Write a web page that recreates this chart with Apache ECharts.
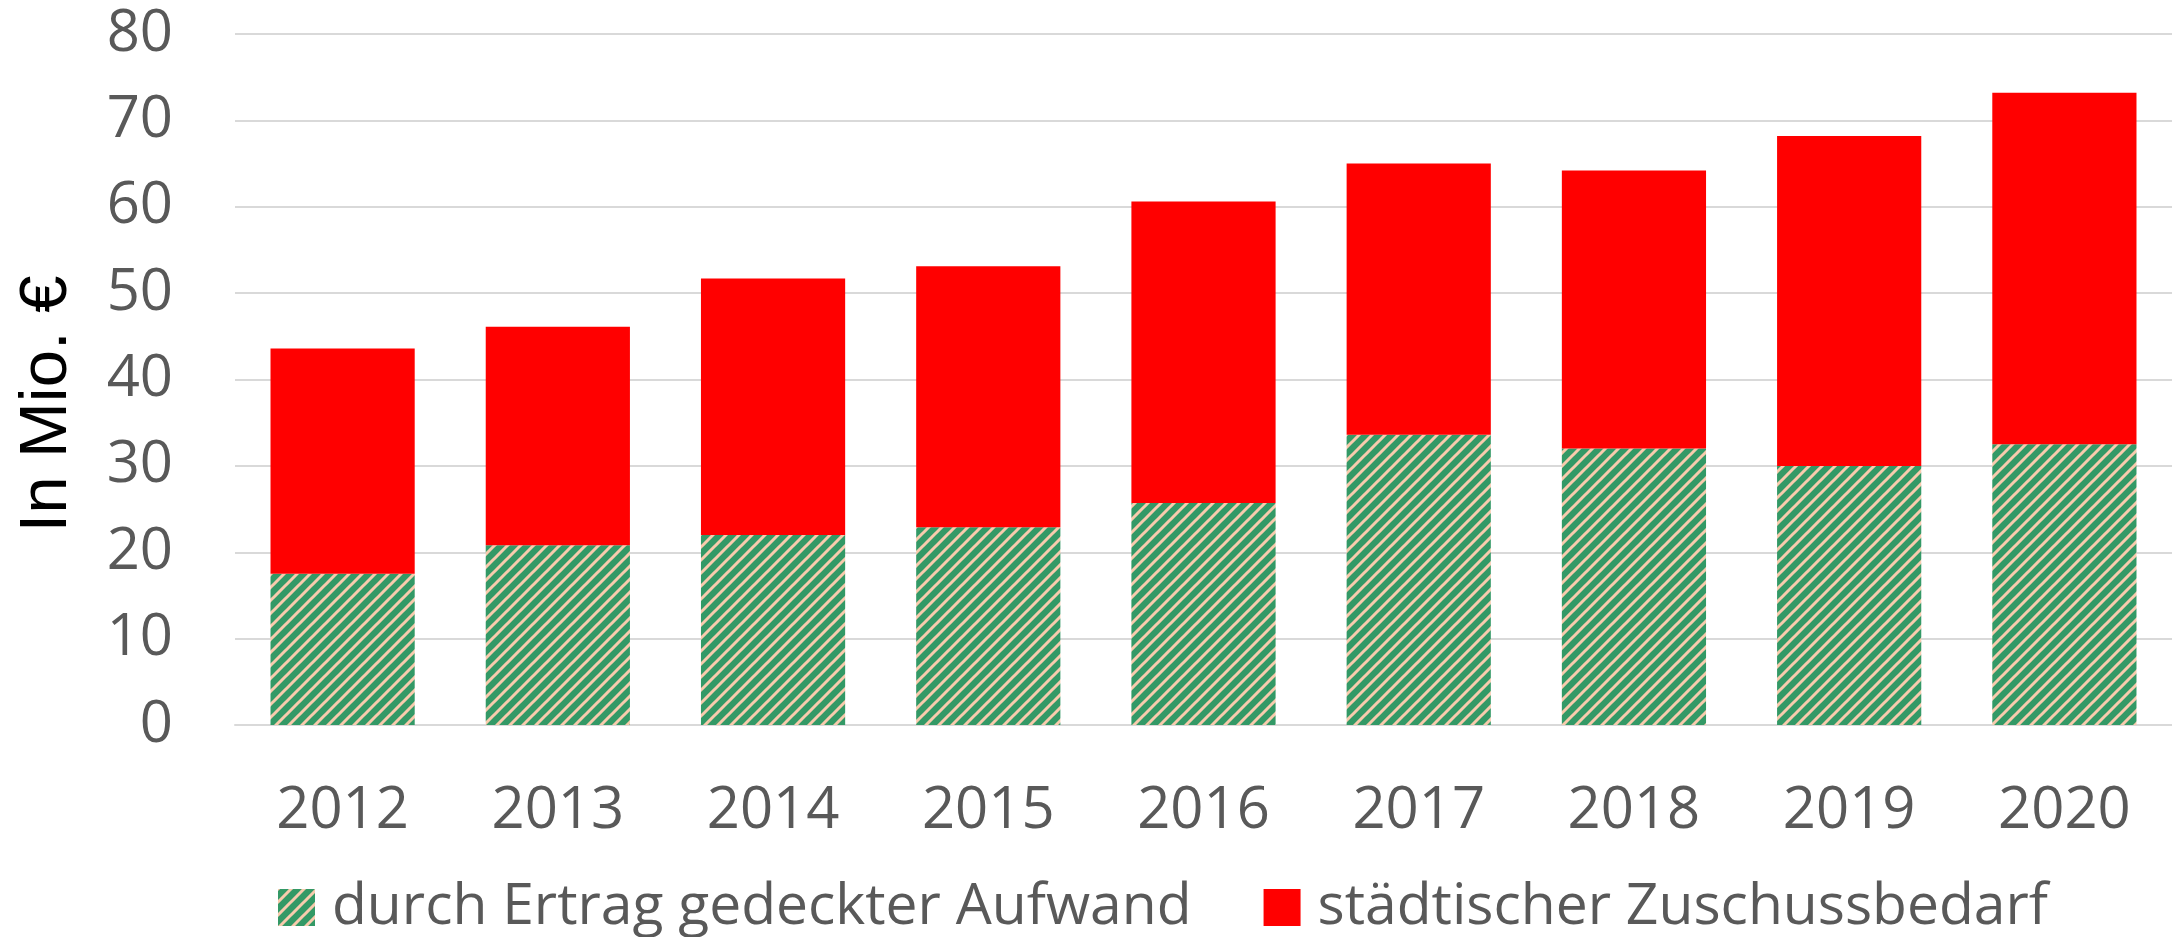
<!DOCTYPE html>
<html>
<head>
<meta charset="utf-8">
<script src="https://cdn.jsdelivr.net/npm/echarts@6/dist/echarts.min.js"></script>
<style>
  html, body { margin: 0; padding: 0; background: #fff; }
  #chart { width: 2172px; height: 937px; }
</style>
</head>
<body>
<div id="chart"></div>
<script>
// Daten
const years = ['2012', '2013', '2014', '2015', '2016', '2017', '2018', '2019', '2020']
const gedeckt = [17.5, 20.8, 22.0, 22.9, 25.7, 33.6, 32.0, 30.0, 32.5]
const zuschuss = [26.1, 25.3, 29.7, 30.2, 34.9, 31.4, 32.2, 38.2, 40.7]
const seriesNames = ['durch Ertrag gedeckter Aufwand', 'städtischer Zuschussbedarf']
const yTicks = [0, 10, 20, 30, 40, 50, 60, 70, 80]

// Schraffur (grün / pfirsich, diagonal)
function makeHatch() {
  const t = 13
  const c = document.createElement('canvas')
  c.width = t
  c.height = t
  const ctx = c.getContext('2d')
  ctx.fillStyle = '#339966'
  ctx.fillRect(0, 0, t, t)
  ctx.strokeStyle = '#F8CBAD'
  ctx.lineWidth = 3
  ctx.beginPath()
  ctx.moveTo(-2, t + 2); ctx.lineTo(t + 2, -2)
  ctx.moveTo(-2, 2); ctx.lineTo(2, -2)
  ctx.moveTo(t - 2, t + 2); ctx.lineTo(t + 2, t - 2)
  ctx.stroke()
  return c
}

const chart = echarts.init(document.getElementById('chart'))
const font = '"Open Sans", sans-serif'

const option = {
  animation: false,
  grid: { left: 235, right: 0, top: 34, bottom: 212 },
  legend: {
    top: 874,
    left: 273,
    itemWidth: 37,
    itemHeight: 37,
    itemGap: 72,
    icon: 'rect',
    textStyle: { fontFamily: font, fontSize: 57, color: '#595959', padding: [0, 0, 0, 12] },
    data: seriesNames
  },
  xAxis: {
    type: 'category',
    data: years,
    axisTick: { show: false },
    axisLine: { lineStyle: { color: '#d9d9d9', width: 2 } },
    axisLabel: { margin: 57, fontFamily: font, fontSize: 58, color: '#595959' }
  },
  yAxis: {
    type: 'value',
    min: yTicks[0],
    max: yTicks[yTicks.length - 1],
    interval: yTicks[1] - yTicks[0],
    axisLine: { show: false },
    axisTick: { show: false },
    splitLine: { lineStyle: { color: '#d9d9d9', width: 2 } },
    axisLabel: { margin: 62, fontFamily: font, fontSize: 58, color: '#595959' }
  },
  graphic: [{
    type: 'text',
    x: 48,
    y: 404,
    rotation: Math.PI / 2,
    style: {
      text: 'In Mio. €',
      fontFamily: '"Liberation Sans", Arial, sans-serif',
      fontSize: 67,
      fill: '#000',
      align: 'center',
      verticalAlign: 'middle'
    }
  }],
  series: [
    {
      name: seriesNames[0],
      type: 'bar',
      stack: 'total',
      barCategoryGap: '33%',
      itemStyle: { color: { image: makeHatch(), repeat: 'repeat' } },
      data: gedeckt
    },
    {
      name: seriesNames[1],
      type: 'bar',
      stack: 'total',
      barCategoryGap: '33%',
      itemStyle: { color: '#FF0000' },
      data: zuschuss
    }
  ]
}

chart.setOption(option)
</script>
</body>
</html>
